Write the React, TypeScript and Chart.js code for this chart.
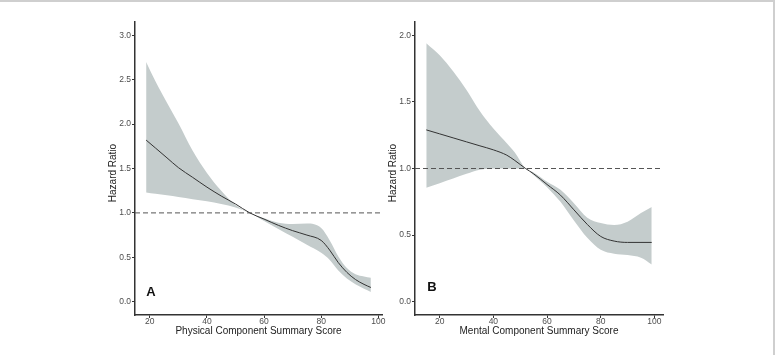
import React, { useEffect, useRef } from "react";
import { Chart, registerables } from "chart.js";

Chart.register(...registerables);

// ---------- Panel A : Physical Component Summary Score ----------
const aX = [18.7, 22, 26, 30, 35, 40, 45, 50, 55, 60, 65, 70, 75, 80, 83, 86, 89, 92, 95, 97.4];
const aFit = [1.82, 1.73, 1.62, 1.51, 1.40, 1.29, 1.19, 1.10, 1.00, 0.93, 0.86, 0.80, 0.75, 0.69, 0.58, 0.44, 0.33, 0.25, 0.195, 0.16];
const aUpper = [2.70, 2.48, 2.24, 2.01, 1.70, 1.45, 1.25, 1.09, 1.00, 0.94, 0.89, 0.875, 0.88, 0.83, 0.69, 0.51, 0.38, 0.31, 0.285, 0.27];
const aLower = [1.23, 1.215, 1.20, 1.18, 1.155, 1.13, 1.10, 1.06, 1.00, 0.91, 0.82, 0.73, 0.64, 0.55, 0.47, 0.35, 0.26, 0.195, 0.145, 0.11];
const aXTicks = [20, 40, 60, 80, 100];
const aYTicks = [0, 0.5, 1.0, 1.5, 2.0, 2.5, 3.0];
const aXTitle = "Physical Component Summary Score";
const aLetter = "A";

// ---------- Panel B : Mental Component Summary Score ----------
const bX = [15, 20, 25, 30, 35, 40, 45, 48, 52, 55, 60, 65, 70, 75, 80, 85, 90, 95, 99];
const bFit = [1.29, 1.26, 1.23, 1.20, 1.17, 1.14, 1.10, 1.06, 1.00, 0.96, 0.88, 0.80, 0.69, 0.58, 0.49, 0.455, 0.445, 0.445, 0.445];
const bUpper = [1.94, 1.85, 1.73, 1.59, 1.43, 1.30, 1.19, 1.12, 1.00, 0.97, 0.90, 0.84, 0.74, 0.63, 0.59, 0.575, 0.60, 0.665, 0.71];
const bLower = [0.855, 0.89, 0.925, 0.96, 0.99, 1.00, 1.00, 1.00, 1.00, 0.95, 0.86, 0.75, 0.61, 0.48, 0.39, 0.36, 0.35, 0.33, 0.28];
const bXTicks = [20, 40, 60, 80, 100];
const bYTicks = [0, 0.5, 1.0, 1.5, 2.0];
const bXTitle = "Mental Component Summary Score";
const bLetter = "B";

const yTitle = "Hazard Ratio";
const referenceHR = 1;

const FONT = "'Liberation Sans', Arial, Helvetica, sans-serif";
const BAND = "rgb(196,204,204)";
const AXIS = "#333333";

type PanelCfg = {
  xs: number[];
  fit: number[];
  upper: number[];
  lower: number[];
  xTicks: number[];
  yTicks: number[];
  xMin: number;
  xMax: number;
  yMin: number;
  yMax: number;
  xTitle: string;
  letter: string;
  letterX: number;
  letterY: number;
  padLeft: number;
  padRight: number;
};

function makeChart(canvas: HTMLCanvasElement, p: PanelCfg) {
  const pts = (ys: number[]) => p.xs.map((x, i) => ({ x, y: ys[i] }));
  const textPlugin = {
    id: "panelText",
    afterDatasetsDraw(chart: any) {
      const ctx = chart.ctx;
      const xs = chart.scales.x;
      const ys = chart.scales.y;
      const area = chart.chartArea;
      ctx.save();
      ctx.font = `bold 13px ${FONT}`;
      ctx.fillStyle = "#111";
      ctx.textAlign = "left";
      ctx.textBaseline = "middle";
      ctx.fillText(p.letter, xs.getPixelForValue(p.letterX), ys.getPixelForValue(p.letterY));
      ctx.restore();

      ctx.save();
      ctx.font = `10px ${FONT}`;
      ctx.fillStyle = "#222";
      ctx.textAlign = "center";
      ctx.textBaseline = "middle";
      ctx.translate(area.left - 22, (area.top + area.bottom) / 2 + 4.5);
      ctx.rotate(-Math.PI / 2);
      ctx.fillText(yTitle, 0, 0);
      ctx.restore();
    },
  };
  return new Chart(canvas, {
    type: "line",
    data: {
      datasets: [
        {
          data: pts(p.upper),
          borderWidth: 0,
          borderColor: "rgba(0,0,0,0)",
          backgroundColor: BAND,
          fill: "+1",
          pointRadius: 0,
          cubicInterpolationMode: "monotone",
          order: 2,
        },
        {
          data: pts(p.lower),
          borderWidth: 0,
          borderColor: "rgba(0,0,0,0)",
          backgroundColor: BAND,
          fill: false,
          pointRadius: 0,
          cubicInterpolationMode: "monotone",
          order: 3,
        },
        {
          data: pts(p.fit),
          borderWidth: 1,
          borderColor: "#333333",
          fill: false,
          pointRadius: 0,
          cubicInterpolationMode: "monotone",
          order: 0,
        },
        {
          data: [
            { x: p.xMin, y: referenceHR },
            { x: p.xMax, y: referenceHR },
          ],
          borderWidth: 1,
          borderColor: "#555555",
          borderDash: [5, 3],
          fill: false,
          pointRadius: 0,
          order: 1,
        },
      ],
    } as any,
    options: {
      responsive: false,
      animation: false,
      events: [],
      layout: { padding: { left: p.padLeft, right: p.padRight, top: 22, bottom: 15 } },
      plugins: { legend: { display: false }, tooltip: { enabled: false }, title: { display: false } },
      scales: {
        x: {
          type: "linear",
          min: p.xMin,
          max: p.xMax,
          afterBuildTicks: (s: any) => {
            s.ticks = p.xTicks.map((v) => ({ value: v }));
          },
          afterFit: (s: any) => {
            s.height = 25;
          },
          grid: { display: true, drawOnChartArea: false, drawTicks: true, tickLength: 3, color: AXIS, lineWidth: 1 },
          border: { display: true, color: AXIS, width: 1.5 },
          ticks: {
            padding: -1,
            color: "#4d4d4d",
            font: { family: FONT, size: 8.5 },
            maxRotation: 0,
            autoSkip: false,
            callback: (v: any) => String(v),
          },
          title: {
            display: true,
            text: p.xTitle,
            color: "#222",
            font: { family: FONT, size: 10 },
            padding: { top: 0, bottom: 2.5 },
          },
        },
        y: {
          type: "linear",
          min: p.yMin,
          max: p.yMax,
          afterBuildTicks: (s: any) => {
            s.ticks = p.yTicks.map((v) => ({ value: v }));
          },
          afterFit: (s: any) => {
            s.width = 30;
          },
          grid: { display: true, drawOnChartArea: false, drawTicks: true, tickLength: 3, color: AXIS, lineWidth: 1 },
          border: { display: true, color: AXIS, width: 1.5 },
          ticks: {
            padding: 1,
            color: "#4d4d4d",
            font: { family: FONT, size: 8.5 },
            autoSkip: false,
            callback: (v: any) => Number(v).toFixed(1),
          },
          title: { display: false },
        },
      },
    } as any,
    plugins: [textPlugin],
  });
}

const panelA: PanelCfg = {
  xs: aX, fit: aFit, upper: aUpper, lower: aLower,
  xTicks: aXTicks, yTicks: aYTicks,
  xMin: 14.8, xMax: 101.3, yMin: -0.15, yMax: 3.15,
  xTitle: aXTitle, letter: aLetter, letterX: 18.7, letterY: 0.1,
  padLeft: 105, padRight: 776 - 382,
};

const panelB: PanelCfg = {
  xs: bX, fit: bFit, upper: bUpper, lower: bLower,
  xTicks: bXTicks, yTicks: bYTicks,
  xMin: 10.8, xMax: 103.2, yMin: -0.1, yMax: 2.1,
  xTitle: bXTitle, letter: bLetter, letterX: 15.4, letterY: 0.107,
  padLeft: 385, padRight: 776 - 663,
};

export default function App() {
  const refA = useRef<HTMLCanvasElement>(null);
  const refB = useRef<HTMLCanvasElement>(null);
  useEffect(() => {
    const ca = makeChart(refA.current!, panelA);
    const cb = makeChart(refB.current!, panelB);
    return () => {
      ca.destroy();
      cb.destroy();
    };
  }, []);
  const cv: React.CSSProperties = { position: "absolute", left: 0, top: 0, width: 776, height: 355 };
  return (
    <div style={{ position: "fixed", left: 0, top: 0, width: 776, height: 355, background: "#fff", overflow: "hidden" }}>
      <canvas ref={refA} width={776} height={355} style={cv} />
      <canvas ref={refB} width={776} height={355} style={cv} />
      <div
        style={{
          position: "absolute",
          left: 0,
          top: 0,
          width: 773,
          height: 355,
          borderTop: "2px solid #cfcfcf",
          borderRight: "2px solid #cfcfcf",
          pointerEvents: "none",
        }}
      />
    </div>
  );
}
